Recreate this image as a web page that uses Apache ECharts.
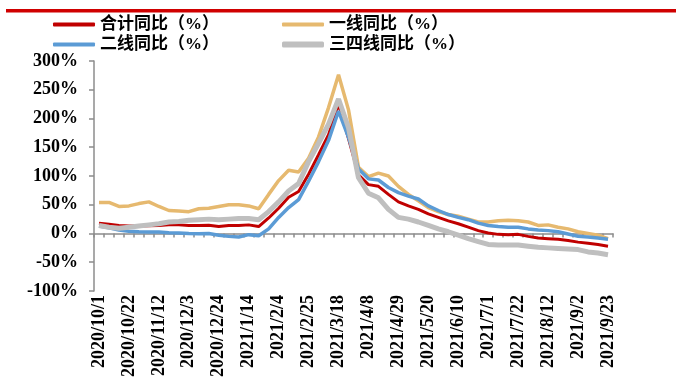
<!DOCTYPE html>
<html>
<head>
<meta charset="utf-8">
<script src="https://cdn.jsdelivr.net/npm/echarts@6/dist/echarts.min.js"></script>
<style>
  html, body { margin: 0; padding: 0; background: #fff; }
  #chart { width: 676px; height: 380px; }
</style>
</head>
<body>
<div id="chart"></div>
<script>
// Weekly dates
const weeks = [
  '2020/10/1','2020/10/8','2020/10/15','2020/10/22','2020/10/29','2020/11/5','2020/11/12','2020/11/19','2020/11/26',
  '2020/12/3','2020/12/10','2020/12/17','2020/12/24','2020/12/31','2021/1/7','2021/1/14','2021/1/21','2021/1/28',
  '2021/2/4','2021/2/11','2021/2/18','2021/2/25','2021/3/4','2021/3/11','2021/3/18','2021/3/25','2021/4/1',
  '2021/4/8','2021/4/15','2021/4/22','2021/4/29','2021/5/6','2021/5/13','2021/5/20','2021/5/27','2021/6/3',
  '2021/6/10','2021/6/17','2021/6/24','2021/7/1','2021/7/8','2021/7/15','2021/7/22','2021/7/29','2021/8/5',
  '2021/8/12','2021/8/19','2021/8/26','2021/9/2','2021/9/9','2021/9/16','2021/9/23'
];

// Year-on-year change, %
const totalYoY = [18,16,14,13,13,13.5,14,15,15,14,14,14.5,12,14,14,15,12,27,
  44,63,73,103,137,172,225,165,102,85,82,68,55,48,42,34,28,22,
  17,11,5,1,-1.5,-2,-1.5,-5,-8,-9,-10,-12,-15,-17,-19,-22];
const tier1YoY = [54,54,47,48,52,55,47,40,39,38,43,44,47,50,50,48,43,68,
  92,110,107,131,168,219,276,215,115,99,105,100,82,68,57,45,38,33,
  30,25,20,20,22,23,22,20,14,15,11,8,3,0,-3,-9];
const tier2YoY = [13,10,6,4,3,2.5,2.5,1.5,1,0,-0.5,0,-3,-5,-6,-2,-4,8,
  28,45,59,91,125,162,213,167,112,95,93,80,71,65,60,48,40,33,
  28,24,18,14,12,11,11,8,6,5,3,-1,-5,-6,-8,-10];
const tier34YoY = [14,11,9,11,13,15,17,20,21,23,24,25,24,25,26,26,24,38,
  55,74,87,125,157,190,234,184,97,70,62,42,28,25,20,14,8,3,
  -3,-9,-14,-19,-20,-20,-20,-22,-24,-25,-26,-27,-28,-32,-34,-37];

const yTicks = { min: -100, max: 300, step: 50 };

const names = ['合计同比（%）', '一线同比（%）', '二线同比（%）', '三四线同比（%）'];
const colors = ['#C00000', '#E6B96F', '#5B9BD5', '#BFBFBF'];

const serifBold = { fontFamily: '"Liberation Serif", "Times New Roman", serif', fontWeight: 'bold', color: '#000' };
const legendText = { fontFamily: '"Liberation Serif", "Noto Sans CJK SC", serif', fontWeight: 'bold', fontSize: 17, color: '#000' };

function legendAt(name, left, top, h) {
  return {
    data: [name], left: left, top: top, icon: 'roundRect',
    itemWidth: 42, itemHeight: h, itemGap: 0, padding: 0,
    textStyle: legendText
  };
}

function lineSeries(name, values, color, width) {
  return {
    name: name, type: 'line', data: values, showSymbol: false, symbol: 'none',
    lineStyle: { color: color, width: width }, itemStyle: { color: color },
    animation: false
  };
}

const chart = echarts.init(document.getElementById('chart'), null, { renderer: 'canvas' });
chart.setOption({
  backgroundColor: '#fff',
  animation: false,
  graphic: [{
    type: 'rect', shape: { x: 6, y: 9, width: 670, height: 3.5 },
    style: { fill: '#D00000' }, silent: true
  }],
  legend: [
    legendAt(names[0], 53, 16, 4),
    legendAt(names[1], 282, 16, 4),
    legendAt(names[2], 53, 36, 4),
    legendAt(names[3], 282, 36, 6)
  ],
  grid: { left: 94, right: 63, top: 61, bottom: 85.5, containLabel: false },
  xAxis: {
    type: 'category', data: weeks, boundaryGap: true,
    axisLine: { lineStyle: { color: '#8c8c8c', width: 1.5 } },
    axisTick: { show: true, interval: 0, length: 4, lineStyle: { color: '#8c8c8c', width: 1.5 } },
    axisLabel: Object.assign({ interval: 2, rotate: 90, fontSize: 18, margin: 4 }, serifBold),
    splitLine: { show: false }
  },
  yAxis: {
    type: 'value', min: yTicks.min, max: yTicks.max, interval: yTicks.step,
    axisLine: { show: true, lineStyle: { color: '#8c8c8c', width: 1.5 } },
    axisTick: { show: true, length: 5, lineStyle: { color: '#8c8c8c', width: 1.5 } },
    axisLabel: Object.assign({ formatter: '{value}%', fontSize: 18, margin: 16 }, serifBold),
    splitLine: { show: false }
  },
  series: [
    lineSeries(names[0], totalYoY, colors[0], 3),
    lineSeries(names[1], tier1YoY, colors[1], 3.5),
    lineSeries(names[2], tier2YoY, colors[2], 3.5),
    lineSeries(names[3], tier34YoY, colors[3], 5)
  ]
});
</script>
</body>
</html>
